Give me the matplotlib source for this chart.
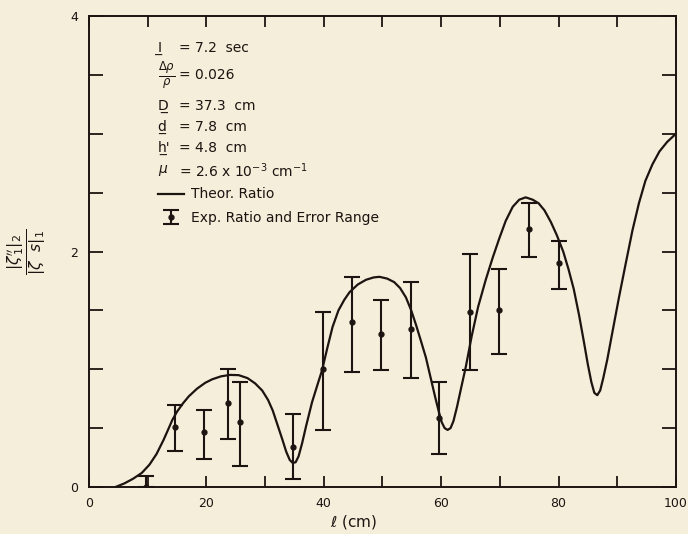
import numpy as np
import matplotlib
matplotlib.use('Agg')
import matplotlib.pyplot as plt
from matplotlib.ticker import MultipleLocator

# experimental points (l in cm, ratio, error range low / high)
exp_l = [9.7, 14.7, 19.6, 23.6, 25.7, 34.7, 39.8, 44.8, 49.7, 54.9, 59.7, 65.0, 69.8, 75.0, 80.0]
exp_r = [0.0, 0.51, 0.47, 0.71, 0.55, 0.34, 1.0, 1.40, 1.30, 1.34, 0.59, 1.49, 1.50, 2.19, 1.90]
exp_lo = [0.0, 0.31, 0.24, 0.41, 0.18, 0.07, 0.48, 0.98, 0.99, 0.93, 0.28, 0.99, 1.13, 1.95, 1.68]
exp_hi = [0.09, 0.70, 0.65, 1.0, 0.89, 0.62, 1.49, 1.78, 1.59, 1.74, 0.89, 1.98, 1.85, 2.41, 2.09]

# theoretical ratio curve
theo_l = [4.5, 6, 7.5, 9, 10.3, 11.5, 12.7, 13.5, 14.2, 15, 16, 17, 18.4, 19.8, 21, 22.5,
          24, 25.5, 27, 28.3, 29.5, 30.5, 31.3, 32.1, 32.9, 33.6, 34.2, 34.7, 35.2, 35.7,
          36.3, 37, 38, 39, 39.7, 40.6, 41.5, 42.5, 43.5, 44.4, 45.8, 47.2, 48.5, 49.5,
          50.8, 52.0, 53.0, 54.0, 54.9, 55.7, 56.5, 57.4, 58.2, 59, 59.6, 60.1, 60.6, 61.1,
          61.6, 62.1, 62.7, 63.4, 64.2, 65.2, 66.3, 67.6, 68.8, 69.9, 71, 72.2, 73.3, 74.4,
          75.6, 76.6, 77.6, 78.7, 79.7, 80.8, 81.7, 82.6, 83.5, 84.3, 85.0, 85.6, 86.1, 86.6,
          87.1, 87.6, 88.3, 89.2, 90.3, 91.5, 92.6, 93.7, 94.8, 96.0, 97.2, 98.5, 100]
theo_r = [0.0, 0.03, 0.07, 0.12, 0.19, 0.28, 0.40, 0.49, 0.57, 0.64, 0.71, 0.77, 0.835, 0.885, 0.915, 0.94,
          0.952, 0.95, 0.925, 0.88, 0.82, 0.74, 0.65, 0.53, 0.41, 0.30, 0.23, 0.205, 0.21, 0.26,
          0.37, 0.52, 0.72, 0.88, 0.99, 1.18, 1.36, 1.50, 1.59, 1.655, 1.72, 1.76, 1.78, 1.785,
          1.77, 1.74, 1.69, 1.61, 1.50, 1.38, 1.25, 1.10, 0.93, 0.76, 0.64, 0.55, 0.50, 0.485,
          0.50, 0.56, 0.68, 0.84, 1.02, 1.28, 1.53, 1.76, 1.95, 2.11, 2.26, 2.38, 2.44, 2.46,
          2.44, 2.41, 2.35, 2.25, 2.14, 2.0, 1.85, 1.68, 1.46, 1.24, 1.04, 0.89, 0.80, 0.78,
          0.82, 0.92, 1.08, 1.32, 1.61, 1.91, 2.18, 2.41, 2.60, 2.74, 2.85, 2.93, 3.0]

params = [('I\u0332', '= 7.2  sec'),
          (r'$\frac{\Delta\rho}{\rho}$', '= 0.026'),
          ('D\u0332', '= 37.3  cm'),
          ('d\u0332', '= 7.8  cm'),
          ("h\u0332'", '= 4.8  cm'),
          (r'$\mu$', r'= 2.6 x 10$^{-3}$ cm$^{-1}$')]

plt.rcParams['mathtext.fontset'] = 'dejavusans'
bg = '#f4eedb'
ink = '#1c1410'

fig = plt.figure(figsize=(6.88, 5.34), dpi=100, facecolor=bg)
ax = fig.add_axes([0.1294, 0.088, 0.853, 0.882])
ax.set_facecolor(bg)

line, = ax.plot(theo_l, theo_r, color=ink, lw=1.6, solid_joinstyle='round')
err = ax.errorbar(exp_l, exp_r,
                  yerr=[np.array(exp_r) - np.array(exp_lo), np.array(exp_hi) - np.array(exp_r)],
                  fmt='o', ms=3.5, color=ink, ecolor=ink, elinewidth=1.5, capsize=6, capthick=1.5)

ax.set_xlim(0, 100)
ax.set_ylim(0, 4)
ax.xaxis.set_major_locator(MultipleLocator(20))
ax.xaxis.set_minor_locator(MultipleLocator(10))
ax.yaxis.set_major_locator(MultipleLocator(2))
ax.yaxis.set_minor_locator(MultipleLocator(0.5))
ax.tick_params(which='both', direction='in', top=True, right=True, colors=ink,
               labelsize=9, width=1.3)
ax.tick_params(which='both', length=8)
ax.tick_params(axis='y', which='both', left=True, length=10)
ax.tick_params(axis='x', pad=7)
ax.tick_params(axis='y', pad=8)
for s in ax.spines.values():
    s.set_color(ink)
    s.set_linewidth(1.4)

ax.set_xlabel(r'$\ell$ (cm)', fontsize=11, color=ink)
ax.xaxis.set_label_coords(0.45, -0.055)
ax.set_ylabel(r'$\frac{|\zeta^{\prime\prime}_{\,1}|_2}{|\zeta\ \ s|_1}$', fontsize=16, color=ink)
ax.yaxis.set_label_coords(-0.07, 0.5)

ys = [3.73, 3.50, 3.24, 3.06, 2.88, 2.69]
for (name, val), y in zip(params, ys):
    fs = 12 if 'frac' in name else 10
    ax.text(11.7, y, name, fontsize=fs, color=ink, va='center', ha='left')
    ax.text(15.3, y, val, fontsize=10, color=ink, va='center', ha='left')

ax.legend([line, err], ['Theor. Ratio', 'Exp. Ratio and Error Range'],
          loc='upper left', bbox_to_anchor=(0.108, 0.648), frameon=False,
          fontsize=10, handlelength=1.9, handletextpad=0.5, labelspacing=0.7,
          borderaxespad=0, labelcolor=ink)

fig.savefig('out.png', dpi=100, facecolor=bg)
